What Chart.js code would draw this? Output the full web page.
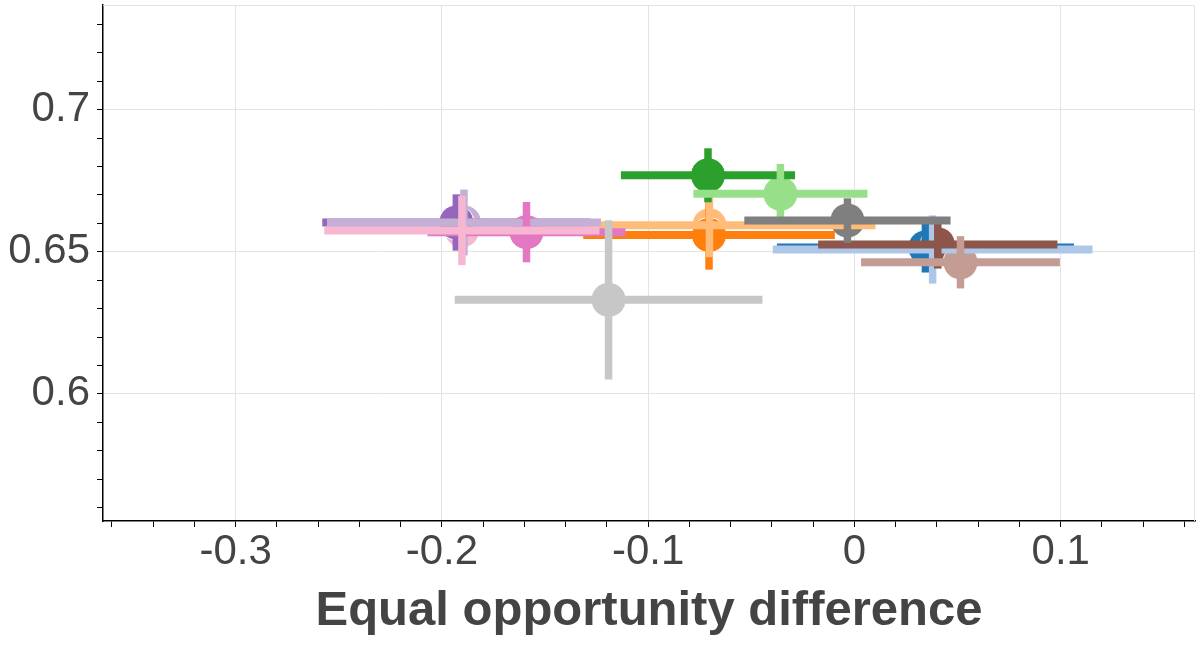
<!DOCTYPE html>
<html>
<head>
<meta charset="utf-8">
<script src="https://cdn.jsdelivr.net/npm/chart.js@4.4.1/dist/chart.umd.min.js"></script>
<style>
html,body{margin:0;padding:0;background:#fff;}
#wrap{width:1200px;height:650px;position:relative;}
</style>
</head>
<body>
<div id="wrap"><canvas id="c"></canvas></div>
<script>
// ---- data ----
const seriesNames = ['s1','s2','s3','s4','s5','s6','s7','s8','s9','s10','s11','s12','s13','s14'];
const xValues = [0.0344, 0.0379, -0.0705, -0.0703, -0.0710, -0.0359, -0.1930, -0.1893, 0.0404, 0.0514, -0.1590, -0.1903, -0.0034, -0.1192];
const yValues = [0.6515, 0.6508, 0.6559, 0.6593, 0.6769, 0.6704, 0.6603, 0.6603, 0.6526, 0.6463, 0.6569, 0.6575, 0.6610, 0.6331];
const xErrors = [0.0720, 0.0775, 0.0610, 0.0805, 0.0422, 0.0422, 0.0650, 0.0664, 0.0580, 0.0482, 0.0480, 0.0667, 0.0500, 0.0746];
const yErrors = [0.0088, 0.0120, 0.0122, 0.0112, 0.0095, 0.0105, 0.0099, 0.0116, 0.0085, 0.0092, 0.0106, 0.0122, 0.0078, 0.0280];
const xTickValues = [-0.3, -0.2, -0.1, 0, 0.1];
const xTickLabels = ['-0.3', '-0.2', '-0.1', '0', '0.1'];
const yTickValues = [0.6, 0.65, 0.7];
const yTickLabels = ['0.6', '0.65', '0.7'];
const xTitle = 'Equal opportunity difference';

// ---- styles ----
const colors = ['#1f77b4','#aec7e8','#ff7f0e','#ffbb78','#2ca02c','#98df8a','#9467bd','#c5b0d5','#8c564b','#c49c94','#e377c2','#f7b6d2','#7f7f7f','#c7c7c7'];
// drawing sequence of the markers (first = bottom)
const markerSequence = [1, 0, 3, 2, 4, 5, 7, 11, 6, 8, 9, 10, 12, 13];

const datasets = [];
markerSequence.forEach((i, rank) => {
  const c = colors[i];
  datasets.push({
    label: seriesNames[i],
    data: [{x: xValues[i], y: yValues[i]}],
    showLine: false, backgroundColor: c, borderColor: '#ffffff', borderWidth: 1,
    pointRadius: 17.5, pointHoverRadius: 17.5, order: 2000 - rank
  });
});
seriesNames.forEach((name, i) => {
  const order = 1000 - i * 2;
  const c = colors[i];
  datasets.push({
    label: name + ' xerr',
    data: [{x: xValues[i] - xErrors[i], y: yValues[i]}, {x: xValues[i] + xErrors[i], y: yValues[i]}],
    showLine: true, borderColor: c, backgroundColor: c, borderWidth: 8,
    borderCapStyle: 'butt', pointRadius: 0, pointHoverRadius: 0, order: order
  });
  datasets.push({
    label: name + ' yerr',
    data: [{x: xValues[i], y: yValues[i] - yErrors[i]}, {x: xValues[i], y: yValues[i] + yErrors[i]}],
    showLine: true, borderColor: c, backgroundColor: c, borderWidth: 7.5,
    borderCapStyle: 'butt', pointRadius: 0, pointHoverRadius: 0, order: order - 1
  });
});

function labelFor(vals, labs, v) {
  const k = vals.findIndex(t => Math.abs(t - v) < 1e-6);
  return k >= 0 ? labs[k] : '';
}
function isMajor(vals, v) { return vals.some(t => Math.abs(t - v) < 1e-6); }

const frame = {
  id: 'frame',
  beforeDatasetsDraw(chart) {
    const a = chart.chartArea, ctx = chart.ctx;
    ctx.save();
    ctx.strokeStyle = '#e3e3e3';
    ctx.lineWidth = 1;
    ctx.beginPath();
    ctx.moveTo(a.left, a.top + 0.5);
    ctx.lineTo(a.right - 0.5, a.top + 0.5);
    ctx.lineTo(a.right - 0.5, a.bottom);
    ctx.stroke();
    ctx.restore();
  }
};

new Chart(document.getElementById('c'), {
  type: 'scatter',
  data: { datasets },
  plugins: [frame],
  options: {
    responsive: true,
    maintainAspectRatio: false,
    animation: false,
    events: [],
    layout: { autoPadding: false, padding: { top: 5, right: 5, left: 0, bottom: 0 } },
    plugins: { legend: { display: false }, tooltip: { enabled: false } },
    scales: {
      x: {
        type: 'linear', min: -0.3643, max: 0.1651,
        afterFit(s) { s.height = 129; s.paddingLeft = 0; s.paddingRight = 0; },
        ticks: {
          stepSize: 0.02, includeBounds: false, autoSkip: false, maxRotation: 0,
          padding: 0, color: '#444',
          font: { family: 'Liberation Sans', size: 42 },
          callback: (v) => labelFor(xTickValues, xTickLabels, v)
        },
        grid: {
          color: (ctx) => (ctx.tick && isMajor(xTickValues, ctx.tick.value)) ? '#e3e3e3' : 'rgba(0,0,0,0)',
          tickColor: '#000', tickLength: 6, tickWidth: 1, lineWidth: 1
        },
        border: { color: '#000', width: 1.5 },
        title: {
          display: true, text: xTitle, color: '#444',
          font: { family: 'Liberation Sans', size: 49, weight: 'bold' },
          padding: { top: 0, bottom: 9 }
        }
      },
      y: {
        type: 'linear', min: 0.5553, max: 0.7368,
        afterFit(s) { s.width = 103; s.paddingTop = 0; s.paddingBottom = 0; },
        ticks: {
          stepSize: 0.01, includeBounds: false, autoSkip: false,
          padding: 7, color: '#444',
          font: { family: 'Liberation Sans', size: 42 },
          callback: (v) => labelFor(yTickValues, yTickLabels, v)
        },
        grid: {
          color: (ctx) => (ctx.tick && isMajor(yTickValues, ctx.tick.value)) ? '#e3e3e3' : 'rgba(0,0,0,0)',
          tickColor: '#000', tickLength: 6, tickWidth: 1, lineWidth: 1
        },
        border: { color: '#000', width: 1.5 }
      }
    }
  }
});
</script>
</body>
</html>
